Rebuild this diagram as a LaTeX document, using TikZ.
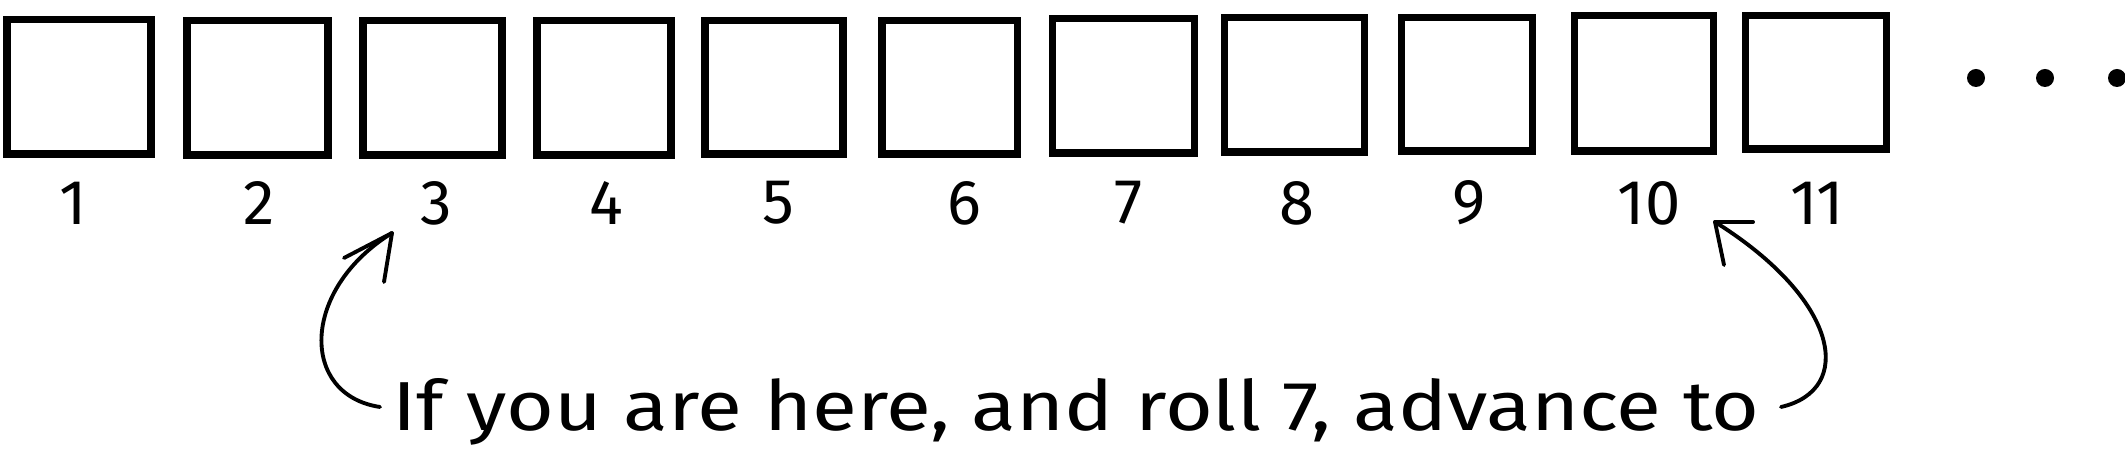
\documentclass[tikz,border=0pt]{standalone}
\usepackage{fontspec}
\usepackage{graphicx}
\newfontfamily\hand{Fira Sans}
\begin{document}
\begin{tikzpicture}[x=0.01cm,y=-0.01cm,
  cell/.style={draw, line width=2pt, rectangle, inner sep=0pt},
  numlbl/.style={font=\hand\fontsize{18}{22}\selectfont, inner sep=0pt},
  curvy/.style={line width=1.1pt, line cap=round},
  barb/.style={line width=1.1pt, line cap=round}]
\useasboundingbox (0,0) rectangle (2125,465);
\foreach \i/\cx/\cy/\w/\h in {1/79/87/144/134, 2/257.5/88/141/134, 3/432.5/88/139/134,
  4/604/88/134/134, 5/774/87.5/138/133, 6/949.5/87.5/135/133, 7/1123/86/142/134,
  8/1294/85/140/134, 9/1466.5/84.5/131/133, 10/1643.5/83.5/139/135, 11/1815.5/82.5/141/133} {
  \node[cell, minimum width=\w*0.01cm, minimum height=\h*0.01cm] (b\i) at (\cx,\cy) {};
}
\foreach \i/\lx in {1/73,2/259,3/436,4/606,5/778,6/964,7/1129,8/1297,9/1469,10/1649,11/1817} {
  \node[numlbl] (l\i) at (\lx,203) {\i};
}
\fill (1976,78) circle [radius=0.09cm];
\fill (2045,78) circle [radius=0.09cm];
\fill (2117,78) circle [radius=0.09cm];
\node[anchor=base west, inner sep=0pt] (txt) at (392,431)
  {\resizebox{13.66cm}{0.52cm}{\hand If you are here, and roll 7, advance to}};
\coordinate (s1) at (380,407);
\coordinate (t1) at (392,233);
\draw[curvy] (s1) .. controls (300,395) and (300,290) .. (t1);
\draw[barb] (t1) -- ++(-48,25);
\draw[barb] (t1) -- ++(-8,49);
\coordinate (s2) at (1781,407);
\coordinate (t2) at (1715,222);
\draw[curvy] (s2) .. controls (1855,390) and (1840,300) .. (t2);
\draw[barb] (t2) -- ++(38,0);
\draw[barb] (t2) -- ++(9,43);
\end{tikzpicture}
\end{document}
